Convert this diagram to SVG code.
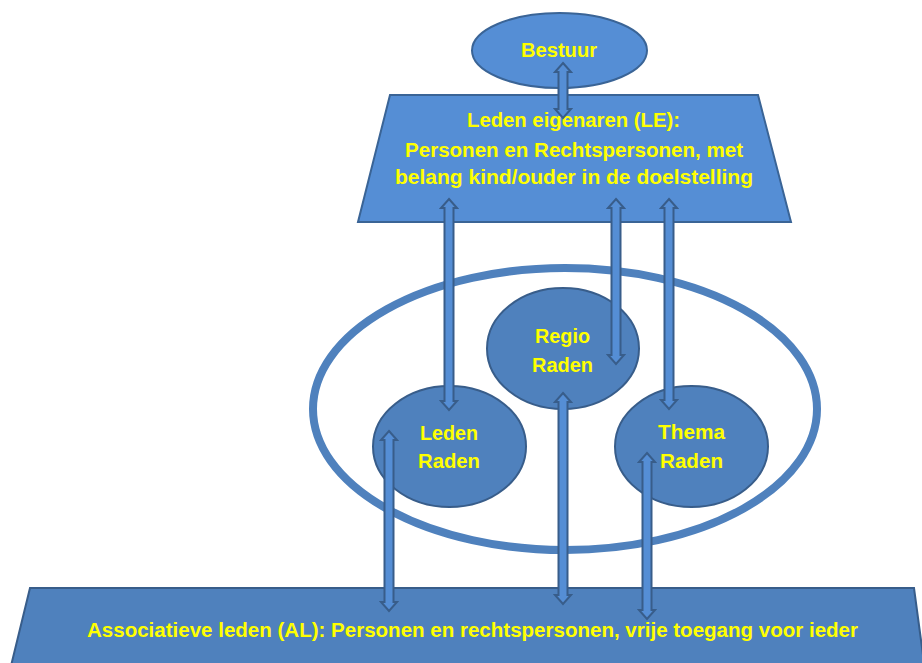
<svg xmlns="http://www.w3.org/2000/svg" width="922" height="663" viewBox="0 0 922 663">
<style>
.light{fill:#558ed5;stroke:#3a6496;stroke-width:2}
.dark{fill:#4f81bd;stroke:#385d8a;stroke-width:2}
.ring{fill:none;stroke:#4f81bd;stroke-width:8}
.arr{fill:#558ed5;stroke:#385d8a;stroke-width:2;stroke-linejoin:miter}
text{font-family:"Liberation Sans",Arial,sans-serif;font-weight:bold;font-size:20px;fill:#ffff00;text-anchor:middle}
</style>
<rect width="922" height="663" fill="#ffffff"/>
<g id="associatieve-leden">
<polygon class="dark" points="30,588 914,588 925,670 10,670"/>
<text x="472.5" y="637" font-size="19" textLength="771" lengthAdjust="spacingAndGlyphs">Associatieve leden (AL): Personen en rechtspersonen, vrije toegang voor ieder</text>
</g>
<g id="raden-ring">
<ellipse class="ring" cx="565" cy="409" rx="252" ry="141"/>
</g>
<g id="bestuur">
<ellipse class="light" cx="559.5" cy="50.5" rx="87.5" ry="37.5"/>
<text x="559" y="57" textLength="76" lengthAdjust="spacingAndGlyphs">Bestuur</text>
</g>
<g id="leden-eigenaren">
<polygon class="light" points="390,95 758,95 791,222 358,222"/>
<text x="573.5" y="127" textLength="213" lengthAdjust="spacingAndGlyphs">Leden eigenaren (LE):</text>
<text x="574" y="157" textLength="338" lengthAdjust="spacingAndGlyphs">Personen en Rechtspersonen, met</text>
<text x="574" y="184" textLength="358" lengthAdjust="spacingAndGlyphs">belang kind/ouder in de doelstelling</text>
</g>
<g id="regio-raden">
<ellipse class="dark" cx="563" cy="348.5" rx="76" ry="60.5"/>
<text x="562.5" y="343" textLength="55" lengthAdjust="spacingAndGlyphs">Regio</text>
<text x="562.5" y="372" textLength="61" lengthAdjust="spacingAndGlyphs">Raden</text>
</g>
<g id="leden-raden">
<ellipse class="dark" cx="449.5" cy="446.5" rx="76.5" ry="60.5"/>
<text x="449" y="440" textLength="58" lengthAdjust="spacingAndGlyphs">Leden</text>
<text x="449" y="468" textLength="62" lengthAdjust="spacingAndGlyphs">Raden</text>
</g>
<g id="thema-raden">
<ellipse class="dark" cx="691.5" cy="446.5" rx="76.5" ry="60.5"/>
<text x="691.5" y="439" textLength="67" lengthAdjust="spacingAndGlyphs">Thema</text>
<text x="691.5" y="468" textLength="63" lengthAdjust="spacingAndGlyphs">Raden</text>
</g>
<g id="connectors">
<path class="arr" d="M563,63 L571,72 L567.5,72 L567.5,109 L571,109 L563,118 L555,109 L558.5,109 L558.5,72 L555,72 Z"/>
<path class="arr" d="M449,199 L457,208 L453.5,208 L453.5,401 L457,401 L449,410 L441,401 L444.5,401 L444.5,208 L441,208 Z"/>
<path class="arr" d="M616,199 L624,208 L620.5,208 L620.5,355 L624,355 L616,364 L608,355 L611.5,355 L611.5,208 L608,208 Z"/>
<path class="arr" d="M669,199 L677,208 L673.5,208 L673.5,400 L677,400 L669,409 L661,400 L664.5,400 L664.5,208 L661,208 Z"/>
<path class="arr" d="M389,431 L397,440 L393.5,440 L393.5,602 L397,602 L389,611 L381,602 L384.5,602 L384.5,440 L381,440 Z"/>
<path class="arr" d="M563,393 L571,402 L567.5,402 L567.5,595 L571,595 L563,604 L555,595 L558.5,595 L558.5,402 L555,402 Z"/>
<path class="arr" d="M647,453 L655,462 L651.5,462 L651.5,610 L655,610 L647,619 L639,610 L642.5,610 L642.5,462 L639,462 Z"/>
</g>
</svg>
